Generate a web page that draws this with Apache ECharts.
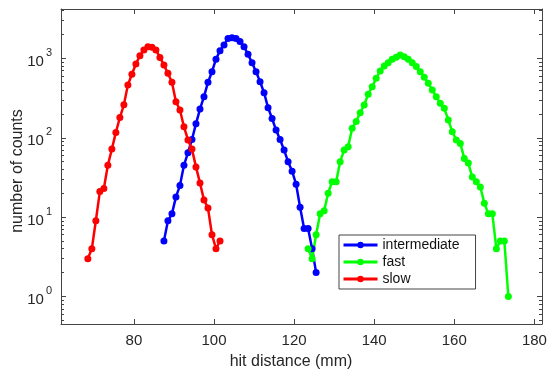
<!DOCTYPE html>
<html>
<head>
<meta charset="utf-8">
<script src="https://cdn.jsdelivr.net/npm/echarts@6/dist/echarts.min.js"></script>
<style>html,body{margin:0;padding:0;background:#fff}#c{width:550px;height:377px}</style>
</head>
<body>
<div id="c"></div>
<script>
// hit distance (mm) values for each series
const slowX = [68.5,69.5,70.5,71.5,72.5,73.5,74.5,75.5,76.5,77.5,78.5,79.5,80.5,81.5,82.5,83.5,84.5,85.5,86.5,87.5,88.5,89.5,90.5,91.5,92.5,93.5,94.5,95.5,96.5,97.5,98.5,99.5,100.5,101.5];
const slowY = [3,4,9,21,23,45,72,117,180,260,463,632,853,1085,1280,1409,1384,1280,1030,825,651,500,285,224,138,94,72,43,27,16.5,13,6,4,5];

const intermediateX = [87.5,88.5,89.5,90.5,91.5,92.5,93.5,94.5,95.5,96.5,97.5,98.5,99.5,100.5,101.5,102.5,103.5,104.5,105.5,106.5,107.5,108.5,109.5,110.5,111.5,112.5,113.5,114.5,115.5,116.5,117.5,118.5,119.5,120.5,121.5,122.5,123.5,124.5,125.5];
const intermediateY = [5,9,11,18,25,45,65,95,150,230,330,500,680,980,1250,1480,1780,1830,1780,1640,1400,1130,880,680,510,370,240,175,125,95,70,50,38,26,13.3,7.2,7.2,4,2];

const fastX = [123.5,124.5,125.5,126.5,127.5,128.5,129.5,130.5,131.5,132.5,133.5,134.5,135.5,136.5,137.5,138.5,139.5,140.5,141.5,142.5,143.5,144.5,145.5,146.5,147.5,148.5,149.5,150.5,151.5,152.5,153.5,154.5,155.5,156.5,157.5,158.5,159.5,160.5,161.5,162.5,163.5,164.5,165.5,166.5,167.5,168.5,169.5,170.5,171.5,172.5,173.5];
const fastY = [4,3,6,11,12,20,28,28,50,70,77,132,160,207,259,354,441,563,696,805,885,977,1036,1107,1054,977,885,789,682,580,487,401,330,272,235,168,119,94,85,55,48,32,28,24,15,11,11,4,5,5,1];

const xTicks = [80,100,120,140,160,180];
const yMajor = [1,10,100,1000];
const yMinor = [0.5,0.6,0.7,0.8,0.9,2,3,4,5,6,7,8,9,20,30,40,50,60,70,80,90,200,300,400,500,600,700,800,900,2000,3000,4000];

const names = ['intermediate','fast','slow'];
const colors = ['#0000ff','#00ff00','#ff0000'];

function pairs(xs, ys){ return xs.map((x,i)=>[x, ys[i]]); }

const FONT = "'Liberation Sans', Arial, Helvetica, sans-serif";
const TXT = '#262626';
const AX = '#444';
const X_MIN = 61.8, X_MAX = 181.9, Y_MIN = 0.45, Y_MAX = 4200;

function xAxisDef(pos, labels){
  return {
    type:'value', position:pos, min:X_MIN, max:X_MAX,
    axisLine:{show:true, onZero:false, lineStyle:{color:AX, width:1}},
    axisTick:{show:true, inside:true, length:5, customValues:xTicks, lineStyle:{color:AX}},
    axisLabel:{show:labels, customValues:xTicks, margin:9, fontSize:15, color:TXT, fontFamily:FONT},
    splitLine:{show:false}
  };
}
function yAxisDef(pos, ticks, len, labels, line){
  return {
    type:'log', logBase:10, position:pos, min:Y_MIN, max:Y_MAX,
    axisLine:{show:line, onZero:false, lineStyle:{color:AX, width:1}},
    axisTick:{show:true, inside:true, length:len, customValues:ticks, lineStyle:{color:AX}},
    axisLabel:{show:labels, customValues:yMajor, margin:9, fontFamily:FONT, color:TXT,
      formatter: v => '{b|10}{s|' + Math.round(Math.log10(v)) + '}',
      rich:{ b:{fontSize:15, fontFamily:FONT, color:TXT, lineHeight:22, verticalAlign:'bottom'},
             s:{fontSize:11, fontFamily:FONT, color:TXT, verticalAlign:'top', padding:[0,0,0,2]} }},
    splitLine:{show:false}, minorTick:{show:false}
  };
}

const series = [
  [intermediateX, intermediateY],
  [fastX, fastY],
  [slowX, slowY]
].map((d,i)=>({
  name:names[i], type:'line', xAxisIndex:0, yAxisIndex:0,
  data:pairs(d[0], d[1]),
  symbol:'circle', symbolSize:7, showSymbol:true,
  lineStyle:{color:colors[i], width:2.5},
  itemStyle:{color:colors[i]},
  animation:false
}));

const chart = echarts.init(document.getElementById('c'), null, {renderer:'canvas'});
chart.setOption({
  animation:false,
  backgroundColor:'#fff',
  grid:{left:61, right:8, top:9, bottom:53, containLabel:false},
  xAxis:[xAxisDef('bottom', true), xAxisDef('top', false)],
  yAxis:[yAxisDef('left', yMajor, 5, true, true), yAxisDef('left', yMinor, 3, false, false),
         yAxisDef('right', yMajor, 5, false, true), yAxisDef('right', yMinor, 3, false, false)],
  legend:{
    data:names, orient:'vertical', left:339, top:235,
    itemWidth:34, itemHeight:8, itemGap:3,
    padding:[3,16,3,3],
    borderColor:'#444', borderWidth:1, backgroundColor:'#fff',
    textStyle:{fontSize:14, lineHeight:14, color:'#111', fontFamily:FONT},
    lineStyle:{width:3}
  },
  graphic:[
    {type:'text', x:18, y:171, rotation:Math.PI/2,
     style:{text:'number of counts', fill:TXT, font:"16px 'Liberation Sans', Arial, sans-serif", textAlign:'center', textVerticalAlign:'middle'}},
    {type:'text', x:291, y:362,
     style:{text:'hit distance (mm)', fill:TXT, font:"16px 'Liberation Sans', Arial, sans-serif", textAlign:'center', textVerticalAlign:'middle'}}
  ],
  series:series
});
</script>
</body>
</html>
